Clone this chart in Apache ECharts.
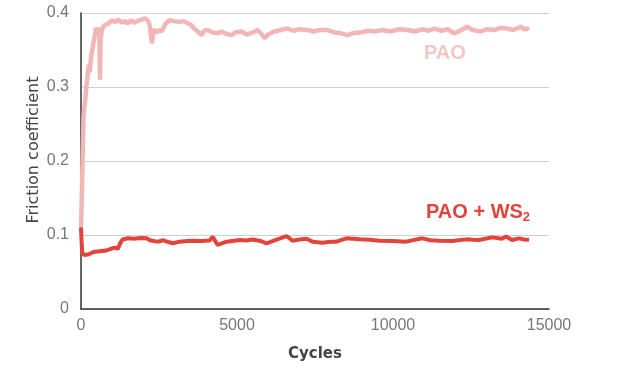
<!DOCTYPE html>
<html><head><meta charset="utf-8">
<script src="https://cdn.jsdelivr.net/npm/echarts@6/dist/echarts.min.js"></script>
<style>html,body{margin:0;padding:0;background:#fff}#c{width:640px;height:372px}</style>
</head><body><div id="c"></div>
<script>
const xTicks = [0, 5000, 10000, 15000];
const yTicks = [0, 0.1, 0.2, 0.3, 0.4];

const paoCycles = [0, 30, 60, 80, 100, 130, 170, 200, 250, 280, 320, 360, 400, 448, 480, 520, 560, 590, 608, 625, 660, 704, 760, 863, 991, 1100, 1200, 1300, 1400, 1500, 1600, 1700, 1800, 1951, 2047, 2150, 2200, 2271, 2330, 2431, 2520, 2590, 2700, 2846, 2950, 3006, 3150, 3300, 3422, 3550, 3650, 3742, 3870, 3950, 4061, 4200, 4381, 4500, 4650, 4829, 4950, 5149, 5300, 5469, 5661, 5780, 5885, 6000, 6204, 6400, 6620, 6800, 7000, 7260, 7450, 7650, 7899, 8100, 8347, 8539, 8750, 9000, 9200, 9402, 9650, 9900, 10200, 10458, 10700, 10950, 11150, 11321, 11550, 11750, 11961, 12150, 12376, 12550, 12824, 13000, 13240, 13450, 13656, 13850, 14104, 14200, 14296, 14360];
const paoValues = [0.11, 0.16, 0.22, 0.26, 0.27, 0.28, 0.30, 0.31, 0.33, 0.32, 0.34, 0.35, 0.36, 0.37, 0.38, 0.372, 0.38, 0.37, 0.31, 0.36, 0.375, 0.38, 0.384, 0.385, 0.39, 0.388, 0.391, 0.387, 0.389, 0.386, 0.39, 0.387, 0.389, 0.391, 0.393, 0.389, 0.384, 0.359, 0.378, 0.374, 0.377, 0.375, 0.385, 0.3905, 0.389, 0.391, 0.388, 0.389, 0.386, 0.383, 0.378, 0.375, 0.370, 0.376, 0.377, 0.374, 0.3725, 0.375, 0.372, 0.370, 0.374, 0.375, 0.371, 0.373, 0.377, 0.372, 0.366, 0.371, 0.375, 0.377, 0.379, 0.376, 0.378, 0.377, 0.375, 0.377, 0.377, 0.374, 0.3725, 0.370, 0.373, 0.374, 0.376, 0.375, 0.377, 0.375, 0.378, 0.377, 0.375, 0.378, 0.376, 0.379, 0.376, 0.378, 0.3725, 0.376, 0.3815, 0.377, 0.375, 0.378, 0.377, 0.380, 0.379, 0.377, 0.3815, 0.378, 0.379, 0.377];

const ws2Cycles = [0, 20, 40, 100, 250, 400, 600, 800, 1000, 1100, 1180, 1247, 1330, 1500, 1700, 1900, 2111, 2207, 2431, 2527, 2622, 2800, 2942, 3166, 3400, 3582, 3850, 4125, 4221, 4381, 4669, 5085, 5300, 5501, 5750, 5949, 6268, 6588, 6780, 7000, 7227, 7419, 7739, 8000, 8187, 8507, 8923, 9250, 9562, 10000, 10426, 10938, 11200, 11481, 11897, 12344, 12560, 12760, 13176, 13496, 13624, 13816, 14040, 14200, 14360];
const ws2Values = [0.11, 0.09, 0.076, 0.073, 0.074, 0.077, 0.078, 0.079, 0.082, 0.083, 0.081, 0.088, 0.094, 0.0955, 0.095, 0.0958, 0.0955, 0.093, 0.091, 0.0915, 0.093, 0.0905, 0.0888, 0.091, 0.092, 0.0923, 0.092, 0.0925, 0.0977, 0.0865, 0.091, 0.0932, 0.0925, 0.0938, 0.092, 0.0888, 0.0938, 0.0986, 0.0923, 0.094, 0.095, 0.091, 0.0896, 0.091, 0.091, 0.0955, 0.0941, 0.0935, 0.0923, 0.092, 0.091, 0.0955, 0.093, 0.0923, 0.0918, 0.0941, 0.0935, 0.0932, 0.0968, 0.095, 0.098, 0.0932, 0.0955, 0.094, 0.0935];

const pairs = (xs, ys) => xs.map((x, i) => [x, ys[i]]);

const chart = echarts.init(document.getElementById('c'), null, {renderer: 'canvas'});
chart.setOption({
  animation: false,
  backgroundColor: '#ffffff',
  grid: {left: 81, right: 91, top: 13, bottom: 63},
  xAxis: {
    type: 'value', min: xTicks[0], max: xTicks[xTicks.length - 1], interval: 5000,
    name: 'Cycles', nameLocation: 'middle', nameGap: 38,
    nameTextStyle: {fontFamily: 'DejaVu Sans', fontSize: 15, fontWeight: 'bold', color: '#444'},
    axisLine: {lineStyle: {color: '#333', width: 1.5}},
    axisTick: {show: false},
    splitLine: {show: false},
    axisLabel: {fontFamily: 'Liberation Sans', fontSize: 16, color: '#777', margin: 9,
      formatter: v => String(v)}
  },
  yAxis: {
    type: 'value', min: yTicks[0], max: yTicks[yTicks.length - 1], interval: 0.1,
    axisLine: {show: true, lineStyle: {color: '#333', width: 1.5}},
    axisTick: {show: false},
    splitLine: {lineStyle: {color: '#d0d0d0', width: 1.2}},
    axisLabel: {fontFamily: 'Liberation Sans', fontSize: 16, color: '#777', margin: 12}
  },
  graphic: [
    {type: 'text', x: 34, y: 150, rotation: Math.PI / 2,
     style: {text: 'Friction coefficient', fontFamily: 'DejaVu Sans', fontSize: 16, fill: '#444',
             textAlign: 'center', textVerticalAlign: 'middle'}},
    {type: 'text', left: 424, top: 43, style: {text: 'PAO', fontFamily: 'Liberation Sans', fontSize: 20, fontWeight: 'bold', fill: '#f5c6c6'}},
    {type: 'text', left: 426, top: 202, style: {
      text: '{a|PAO + WS}{b|2}',
      rich: {
        a: {fontFamily: 'Liberation Sans', fontSize: 20, fontWeight: 'bold', fill: '#e0443c', color: '#e0443c'},
        b: {fontFamily: 'Liberation Sans', fontSize: 13, fontWeight: 'bold', fill: '#e0443c', color: '#e0443c', padding: [10, 0, 0, 0]}
      }
    }}
  ],
  series: [
    {name: 'PAO', type: 'line', data: pairs(paoCycles, paoValues), showSymbol: false,
     lineStyle: {color: '#f3b6b6', width: 4.5}, z: 2},
    {name: 'PAO + WS2', type: 'line', data: pairs(ws2Cycles, ws2Values), showSymbol: false,
     lineStyle: {color: '#e2443b', width: 4}, z: 3}
  ]
});
</script></body></html>
